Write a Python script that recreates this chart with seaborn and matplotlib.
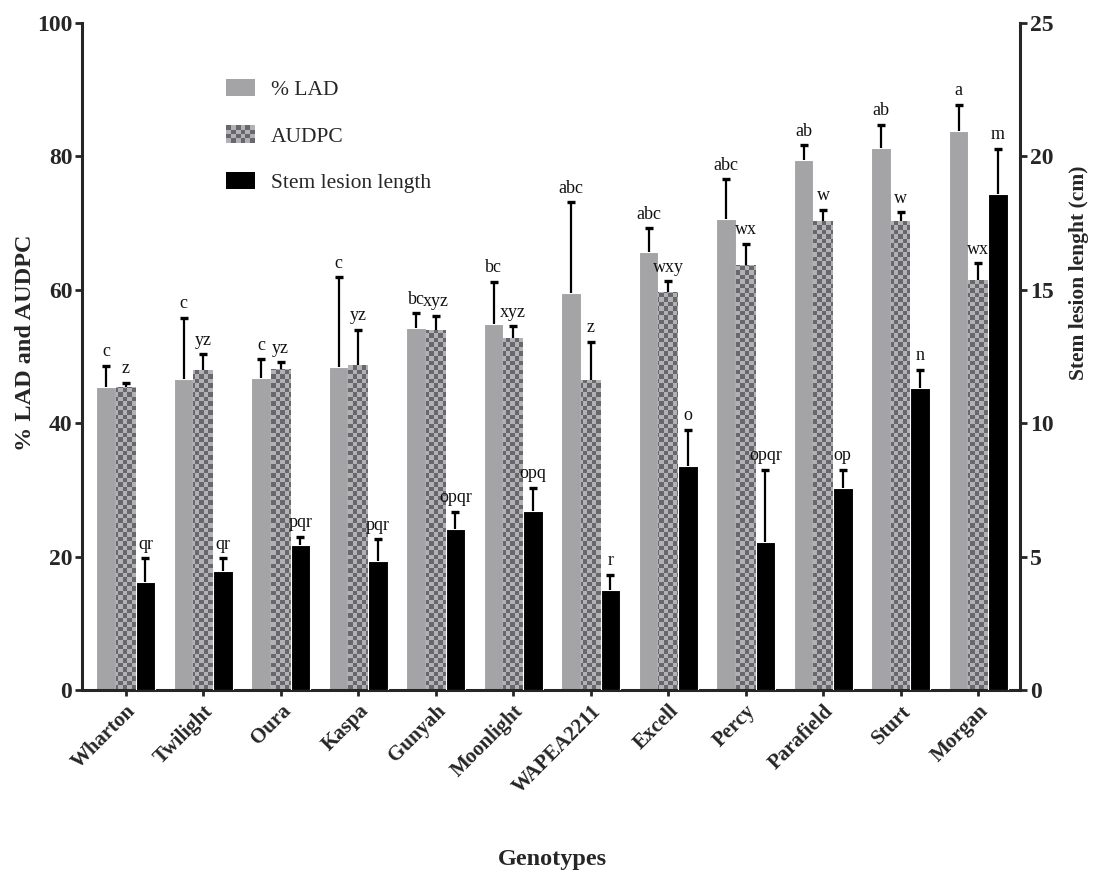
import numpy as np
import pandas as pd
import matplotlib
matplotlib.use("Agg")
import matplotlib.pyplot as plt
import seaborn as sns
from matplotlib.patches import Patch, Rectangle
from matplotlib.path import Path
from matplotlib.colors import ListedColormap
from matplotlib.legend_handler import HandlerBase

# ---- data -------------------------------------------------------------
genotypes = ["Wharton", "Twilight", "Oura", "Kaspa", "Gunyah", "Moonlight",
             "WAPEA2211", "Excell", "Percy", "Parafield", "Sturt", "Morgan"]

lad = [45.5, 46.7, 46.8, 48.5, 54.3, 54.8, 59.5, 65.7, 70.6, 79.5, 81.3, 83.8]
lad_se = [3.1, 9.1, 2.8, 13.4, 2.2, 6.4, 13.6, 3.5, 6.0, 2.2, 3.4, 3.9]
lad_letters = ["c", "c", "c", "c", "bc", "bc", "abc", "abc", "abc", "ab", "ab", "a"]

audpc = [45.4, 48.0, 48.1, 48.7, 54.0, 52.8, 46.5, 59.6, 63.7, 70.3, 70.3, 61.5]
audpc_se = [0.7, 2.3, 1.0, 5.3, 2.1, 1.7, 5.7, 1.7, 3.2, 1.7, 1.3, 2.5]
audpc_letters = ["z", "yz", "yz", "yz", "xyz", "xyz", "z", "wxy", "wx", "w", "w", "wx"]

stem = [4.04, 4.47, 5.43, 4.83, 6.03, 6.72, 3.75, 8.40, 5.55, 7.57, 11.33, 18.58]
stem_se = [0.90, 0.47, 0.32, 0.82, 0.64, 0.85, 0.56, 1.35, 2.70, 0.68, 0.67, 1.70]
stem_letters = ["qr", "qr", "pqr", "pqr", "opqr", "opq", "r", "o", "opqr", "op", "n", "m"]

measures = ["% LAD", "AUDPC", "Stem lesion length"]

# ---- style ------------------------------------------------------------
sns.set_theme(style="ticks")
plt.rcParams["font.family"] = ["Liberation Serif", "DejaVu Serif"]
plt.rcParams["axes.linewidth"] = 2.0

lad_color = "#a4a4a7"
chk_light = "#b2b2b4"
chk_dark = "#68686c"
stem_color = "#000000"

# long tables: left axis holds LAD and AUDPC, right axis holds lesion length
n = len(genotypes)
left_df = pd.DataFrame({
    "Genotype": genotypes * 3,
    "Measure": np.repeat(measures, n),
    "value": lad + audpc + [np.nan] * n,
})
right_df = pd.DataFrame({
    "Genotype": genotypes * 3,
    "Measure": np.repeat(measures, n),
    "value": [np.nan] * (2 * n) + stem,
})
palette = {"% LAD": lad_color, "AUDPC": chk_light, "Stem lesion length": stem_color}

fig = plt.figure(figsize=(10.95, 8.81), dpi=100)
ax1 = fig.add_axes([0.0749, 0.2168, 0.8566, 0.7571])
ax2 = ax1.twinx()

bar_kw = dict(x="Genotype", y="value", hue="Measure", order=genotypes,
              hue_order=measures, palette=palette, width=0.76, errorbar=None,
              edgecolor="white", linewidth=0.8, legend=False)
sns.barplot(data=left_df, ax=ax1, **bar_kw)
sns.barplot(data=right_df, ax=ax2, **bar_kw)

xlim = (-0.565, 11.54)
ax1.set_xlim(*xlim)
ax1.set_ylim(0, 100)
ax2.set_ylim(0, 25)


def bar_tops(container):
    xs = [p.get_x() + p.get_width() / 2 for p in container.patches]
    ys = [p.get_height() for p in container.patches]
    return np.array(xs), np.array(ys)


full = [c for c in ax1.containers if len(c.patches) == n]
lad_bars, audpc_bars = full[0], full[1]
stem_bars = [c for c in ax2.containers if len(c.patches) == n][-1]

# checkerboard fill for the AUDPC bars: one image clipped to all bars
paths = [p.get_patch_transform().transform_path(p.get_path()) for p in audpc_bars.patches]
clip = Path.make_compound_path(*paths)
sq = 4.5  # pixel size of one square
ny, nx = int(667 / sq), int(938 / sq)
board = np.indices((ny, nx)).sum(axis=0) % 2
im = ax1.imshow(board, cmap=ListedColormap([chk_light, chk_dark]),
                extent=(xlim[0], xlim[1], 0, 100), aspect="auto",
                interpolation="nearest", origin="lower", zorder=2.2)
im.set_clip_path(clip, ax1.transData)
ax1.set_xlim(*xlim)
ax1.set_ylim(0, 100)

err_kw = dict(fmt="none", ecolor="black", elinewidth=1.6, capsize=3.2,
              capthick=2.4, zorder=3)
label_kw = dict(textcoords="offset points", ha="center", va="bottom",
                fontsize=13, color="#111111", zorder=4)

for ax, bars, se, letters in [(ax1, lad_bars, lad_se, lad_letters),
                              (ax1, audpc_bars, audpc_se, audpc_letters),
                              (ax2, stem_bars, stem_se, stem_letters)]:
    xs, ys = bar_tops(bars)
    se = np.array(se)
    _, caps, _ = ax.errorbar(xs, ys, yerr=[np.zeros_like(se), se], **err_kw)
    # one-sided bars: drop the cap sitting on the bar top
    for cap in caps:
        if np.allclose(cap.get_ydata(), ys):
            cap.set_visible(False)
    for x, y, s, t in zip(xs, ys, se, letters):
        ax.annotate(t, (x, y + s), xytext=(0, 4), **label_kw)

# ---- axes -------------------------------------------------------------
for ax in (ax1, ax2):
    ax.spines["top"].set_visible(False)
    ax.spines["left"].set_linewidth(2.2)
    ax.spines["right"].set_linewidth(2.2)
    ax.spines["bottom"].set_linewidth(2.2)
    ax.tick_params(axis="both", width=2.0, length=5, labelsize=17, pad=2)
ax1.spines["right"].set_visible(False)
ax2.spines["left"].set_visible(False)
ax2.spines["bottom"].set_visible(False)

ax1.set_yticks([0, 20, 40, 60, 80, 100])
ax2.set_yticks([0, 5, 10, 15, 20, 25])
for lab in ax1.get_yticklabels() + ax2.get_yticklabels():
    lab.set_fontweight("bold")

ax1.set_xticks(range(n))
ax1.set_xticklabels(genotypes, rotation=45, ha="right", rotation_mode="anchor",
                    fontsize=15, fontweight="bold")
ax1.tick_params(axis="x", length=4, pad=4)
ax2.tick_params(axis="x", bottom=False, labelbottom=False)
ax2.set_xlabel("")

ax1.set_ylabel("% LAD and AUDPC", fontsize=17.5, fontweight="bold")
ax1.yaxis.set_label_coords(-0.049, 0.52)
ax2.set_ylabel("Stem lesion lenght (cm)", fontsize=15.5, fontweight="bold",
               rotation=90)
ax2.yaxis.set_label_coords(1.052, 0.625)
ax1.set_xlabel("Genotypes", fontsize=17.5, fontweight="bold")
ax1.xaxis.set_label_coords(0.501, -0.238)


# ---- legend -----------------------------------------------------------
class CheckerHandler(HandlerBase):
    def create_artists(self, legend, orig_handle, xdescent, ydescent,
                       width, height, fontsize, trans):
        cols, rows = 6, 4
        w, h = width / cols, height / rows
        arts = []
        for i in range(cols):
            for j in range(rows):
                c = chk_dark if (i + j) % 2 else chk_light
                arts.append(Rectangle((-xdescent + i * w, -ydescent + j * h), w, h,
                                      facecolor=c, edgecolor="none", transform=trans))
        return arts


h_lad = Patch(facecolor=lad_color, edgecolor="none")
h_audpc = Patch(facecolor=chk_light, edgecolor="none")
h_stem = Patch(facecolor=stem_color, edgecolor="none")
leg = ax2.legend([h_lad, h_audpc, h_stem], measures,
                 handler_map={h_audpc: CheckerHandler()},
                 loc="upper left", bbox_to_anchor=(0.1535, 0.916),
                 frameon=False, fontsize=15.5, handlelength=1.35,
                 handleheight=0.85, handletextpad=0.75, labelspacing=1.18,
                 borderpad=0, borderaxespad=0)

fig.savefig("out.png", dpi=100)
